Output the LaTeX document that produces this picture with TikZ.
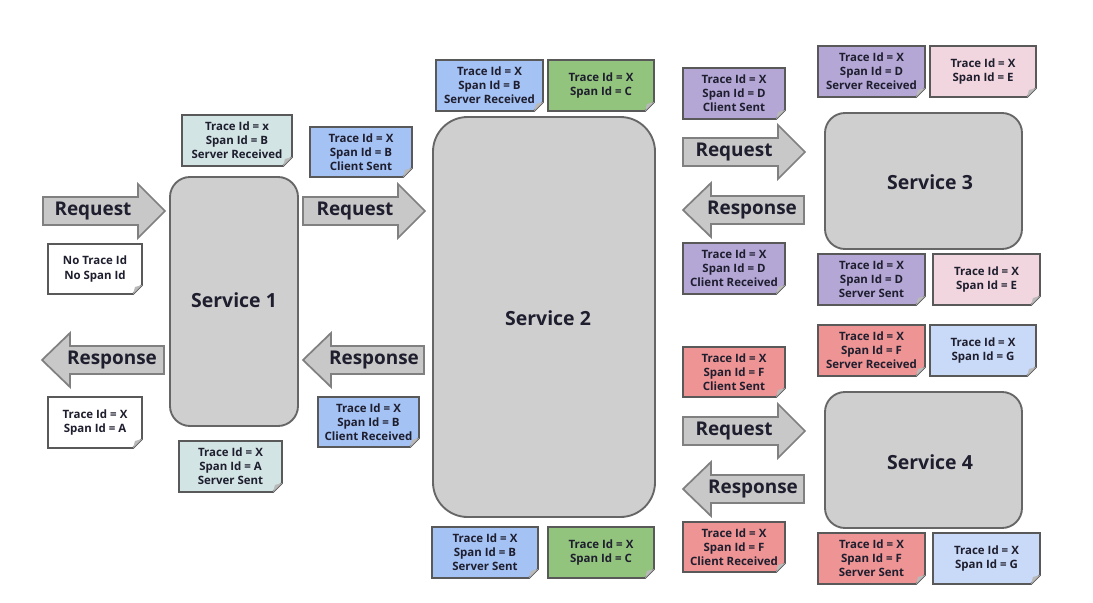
\documentclass[tikz,border=0pt]{standalone}
\usepackage{fontspec}
\setmainfont{Open Sans}
\definecolor{teal}{HTML}{D2E4E4}
\definecolor{nblue}{HTML}{A4C2F4}
\definecolor{ngreen}{HTML}{93C47D}
\definecolor{npurple}{HTML}{B4A7D6}
\definecolor{npink}{HTML}{F2D6DF}
\definecolor{nred}{HTML}{EE9494}
\definecolor{nlblue}{HTML}{C9DAF8}
\definecolor{txt}{HTML}{1E1E2E}
\definecolor{svcfill}{HTML}{CFCFCF}
\definecolor{arrfill}{HTML}{C8C8C8}
\newcommand\notebox[7]{%
  \draw[noteline, fill=#6] (#2,#3) -- (#4,#3) -- (#4,#5-9) -- (#4-9,#5) -- (#2,#5) -- cycle;
  \fill[gray!55] (#4,#5-9) -- (#4-9,#5) -- (#4-7,#5-7) -- cycle;
  \node[notetext] (#1) at ({(#2+#4)/2},{(#3+#5)/2}) {#7};
}
\newcommand\rarrow[5]{%
  \draw[blockarrow] (#2,#4-14) -- (#3-27,#4-14) -- (#3-27,#4-27) -- (#3,#4) -- (#3-27,#4+27) -- (#3-27,#4+14) -- (#2,#4+14) -- cycle;
  \node[arrowtext] (#1) at (#5,#4) {Request};
}
\newcommand\larrow[5]{%
  \draw[blockarrow] (#3,#4-14) -- (#2+28,#4-14) -- (#2+28,#4-27) -- (#2,#4) -- (#2+28,#4+27) -- (#2+28,#4+14) -- (#3,#4+14) -- cycle;
  \node[arrowtext] (#1) at (#5,#4) {Response};
}
\begin{document}
\begin{tikzpicture}[x=0.75pt,y=-0.75pt,
  noteline/.style={draw=black!65, line width=1.4pt, line join=miter},
  notetext/.style={align=center, text=txt, font=\bfseries\fontsize{8.6}{10.6}\selectfont, inner sep=0pt},
  blockarrow/.style={draw=black!50, line width=1.3pt, fill=arrfill, line join=miter},
  arrowtext/.style={text=txt, font=\bfseries\fontsize{14.2}{16}\selectfont, inner sep=0pt},
  service/.style={draw=black!60, line width=1.4pt, fill=svcfill},
  svctext/.style={text=txt, font=\bfseries\fontsize{14.6}{17}\selectfont}]
\useasboundingbox[fill=white] (0,0) rectangle (1093,603);

% services
\draw[service, rounded corners=15pt] (170,177) rectangle (298,426);
\node[svctext] (s1) at (234,300) {Service 1};
\draw[service, rounded corners=26pt] (433,117) rectangle (655,517);
\node[svctext] (s2) at (548,318) {Service 2};
\draw[service, rounded corners=15pt] (825,113) rectangle (1022,249);
\node[svctext] (s3) at (930,182) {Service 3};
\draw[service, rounded corners=15pt] (825,392) rectangle (1022,528);
\node[svctext] (s4) at (930,462) {Service 4};

% arrows
\rarrow{req1}{43}{165}{211}{93}
\larrow{res1}{42}{164}{360}{112}
\rarrow{req2}{303}{425}{211}{355}
\larrow{res2}{303}{424}{360}{374}
\rarrow{req3}{683}{805}{152}{734}
\larrow{res3}{683}{804}{210}{752}
\rarrow{req4}{683}{805}{431}{734}
\larrow{res4}{683}{804}{489}{753}

% notes service 1
\notebox{n1a}{182}{115}{292}{166}{teal}{Trace Id = x\\Span Id = B\\Server Received}
\notebox{n1b}{48}{244}{142}{294}{white}{No Trace Id\\No Span Id}
\notebox{n1c}{48}{397}{142}{448}{white}{Trace Id = X\\Span Id = A}
\notebox{n1d}{179}{441}{282}{492}{teal}{Trace Id = X\\Span Id = A\\Server Sent}

% notes service 2
\notebox{n2a}{310}{127}{412}{177}{nblue}{Trace Id = X\\Span Id = B\\Client Sent}
\notebox{n2b}{318}{397}{419}{447}{nblue}{Trace Id = X\\Span Id = B\\Client Received}
\notebox{n2c}{436}{60}{543}{111}{nblue}{Trace Id = X\\Span Id = B\\Server Received}
\notebox{n2d}{548}{60}{654}{111}{ngreen}{Trace Id = X\\Span Id = C}
\notebox{n2e}{432}{527}{538}{578}{nblue}{Trace Id = X\\Span Id = B\\Server Sent}
\notebox{n2f}{548}{527}{654}{578}{ngreen}{Trace Id = X\\Span Id = C}

% notes service 3
\notebox{n3a}{683}{68}{785}{119}{npurple}{Trace Id = X\\Span Id = D\\Client Sent}
\notebox{n3b}{683}{243}{785}{294}{npurple}{Trace Id = X\\Span Id = D\\Client Received}
\notebox{n3c}{818}{46}{925}{97}{npurple}{Trace Id = X\\Span Id = D\\Server Received}
\notebox{n3d}{930}{46}{1036}{97}{npink}{Trace Id = X\\Span Id = E}
\notebox{n3e}{818}{254}{925}{305}{npurple}{Trace Id = X\\Span Id = D\\Server Sent}
\notebox{n3f}{933}{254}{1040}{305}{npink}{Trace Id = X\\Span Id = E}

% notes service 4
\notebox{n4a}{683}{347}{785}{397}{nred}{Trace Id = X\\Span Id = F\\Client Sent}
\notebox{n4b}{683}{522}{785}{572}{nred}{Trace Id = X\\Span Id = F\\Client Received}
\notebox{n4c}{818}{325}{925}{376}{nred}{Trace Id = X\\Span Id = F\\Server Received}
\notebox{n4d}{930}{325}{1036}{376}{nlblue}{Trace Id = X\\Span Id = G}
\notebox{n4e}{818}{533}{925}{584}{nred}{Trace Id = X\\Span Id = F\\Server Sent}
\notebox{n4f}{933}{533}{1040}{584}{nlblue}{Trace Id = X\\Span Id = G}
\end{tikzpicture}
\end{document}
